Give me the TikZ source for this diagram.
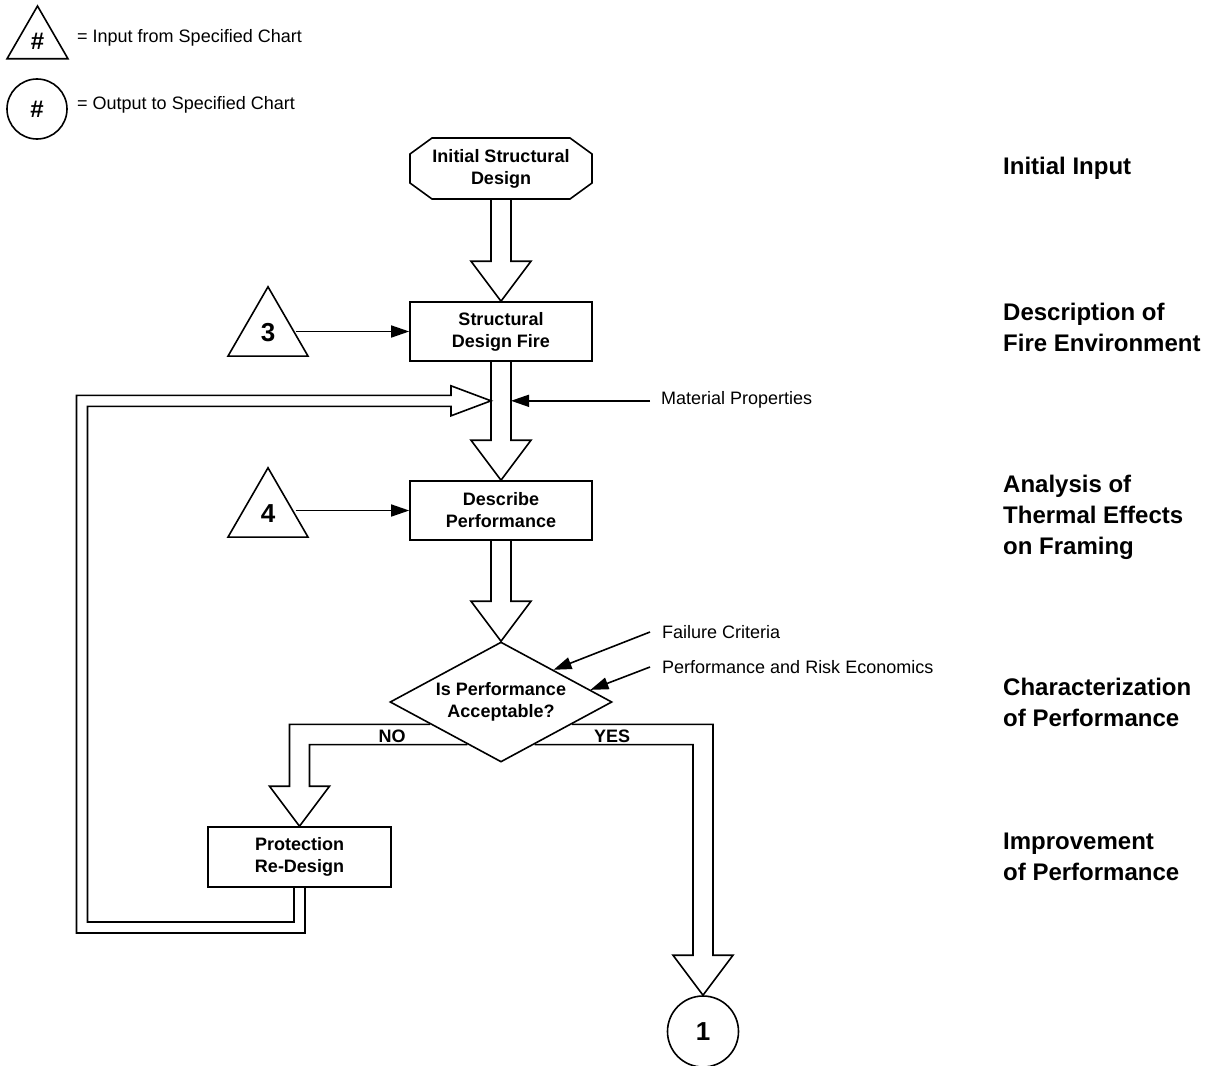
\documentclass[tikz,border=0pt]{standalone}
\usepackage{fontspec}
\setmainfont{Liberation Sans}
\usetikzlibrary{shapes.geometric,arrows.meta,calc}

% font sizes (1 unit = 1pt)
\newcommand\lblfont{\fontsize{18}{22}\selectfont}
\newcommand\boldlbl{\fontsize{18}{22}\selectfont\bfseries}
\newcommand\sidefont{\fontsize{24}{31}\selectfont\bfseries}
\newcommand\numfont{\fontsize{26}{30}\selectfont\bfseries}
\newcommand\hashfont{\fontsize{24}{28}\selectfont\bfseries}

% hollow block arrow pointing down from #1 to #2 (same x)
\newcommand\hollowdown[2]{%
  \draw[flowline] ($(#1)+(-10,0)$) -- ($(#2)+(-10,-40)$) -- ($(#2)+(-30,-40)$)
    -- (#2) -- ($(#2)+(30,-40)$) -- ($(#2)+(10,-40)$) -- ($(#1)+(10,0)$);}

\tikzset{
  flowline/.style={line width=1.6pt, line join=miter},
  procbox/.style={draw, line width=1.6pt, minimum width=182pt, minimum height=59pt,
    inner sep=0pt, align=center, font=\boldlbl},
  inchart/.style={regular polygon, regular polygon sides=3, draw, line width=1.6pt,
    inner sep=0pt},
  outchart/.style={circle, draw, line width=1.6pt, inner sep=0pt},
  lbl/.style={font=\lblfont, inner sep=0pt},
  sidelbl/.style={font=\sidefont, inner sep=0pt, anchor=west, align=left},
  pointer/.style={line width=1.6pt, -{Triangle[length=18pt,width=12pt]}},
}

\begin{document}
\begin{tikzpicture}[x=1pt, y=-1pt]
\useasboundingbox (0,0) rectangle (1220,1065);
\fill[white] (0,0) rectangle (1220,1065);

% legend
\node[inchart, minimum size=70.4pt] (lgIn) at (37.5,41.2) {\hashfont\#};
\node[lbl, anchor=west] (lgInTxt) at (77,38) {= Input from Specified Chart};
\node[outchart, minimum size=60pt] (lgOut) at (37,109) {\hashfont\#};
\node[lbl, anchor=west] (lgOutTxt) at (77,105) {= Output to Specified Chart};

% initial design (octagon)
\node[minimum width=182pt, minimum height=61pt, inner sep=0pt, outer sep=0pt,
      align=center, font=\boldlbl] (isd) at (501,168.5) {Initial Structural\\Design};
\draw[flowline] ([xshift=22pt]isd.north west) -- ([xshift=-22pt]isd.north east)
  -- ([yshift=-16pt]isd.north east) -- ([yshift=16pt]isd.south east)
  -- ([xshift=-22pt]isd.south east) -- ([xshift=22pt]isd.south west)
  -- ([yshift=16pt]isd.south west) -- ([yshift=-16pt]isd.north west) -- cycle;

% process boxes
\node[procbox] (sdf) at (501,331.5) {Structural\\Design Fire};
\node[procbox] (dp) at (501,510.5) {Describe\\Performance};
\node[procbox, minimum width=183pt, minimum height=60pt] (prd) at (299.5,857) {Protection\\Re-Design};

% decision
\node[diamond, draw, line width=1.6pt, aspect=1.85, minimum width=222pt,
      minimum height=120pt, inner sep=0pt, align=center, font=\boldlbl]
      (dia) at (501,702) {Is Performance\\Acceptable?};

% chart inputs and output
\node[inchart, minimum size=92.4pt] (t3) at (268,333) {\numfont 3};
\node[inchart, minimum size=92.4pt] (t4) at (268,514) {\numfont 4};
\node[outchart, minimum size=71pt] (o1) at (703,1031.5) {\numfont 1};

% main hollow flow
\hollowdown{isd.south}{sdf.north}
\hollowdown{sdf.south}{dp.north}
\hollowdown{dp.south}{dia.north}

% inputs into boxes
\draw[pointer] (t3.east |- sdf.west) -- (sdf.west);
\draw[pointer] (t4.east |- dp.west) -- (dp.west);

% material properties
\node[lbl, anchor=west, inner xsep=11pt] (mp) at (650,400) {Material Properties};
\coordinate (mpTip) at ($(sdf.south)+(10,39)$);
\draw[pointer] (mp.west |- mpTip) -- (mpTip);

% criteria into decision
\node[lbl, anchor=west, inner xsep=12pt] (fc) at (650,632) {Failure Criteria};
\node[lbl, anchor=west, inner xsep=12pt] (pe) at (650,667) {Performance and Risk Economics};
\coordinate (fcTip) at ($(dia.north)!0.47!(dia.east)$);
\coordinate (peTip) at ($(dia.north)!0.8!(dia.east)$);
\draw[pointer] (fc.west) -- (fcTip);
\draw[pointer] (pe.west) -- (peTip);

% NO branch
\coordinate (noOut) at ($(dia.west)!0.3667!(dia.south)$);
\coordinate (noIn) at ($(dia.west)!0.7!(dia.south)$);
\coordinate (lcOut) at ($(prd.north)+(-10,0)$);
\coordinate (lcIn) at ($(prd.north)+(10,0)$);
\draw[flowline] (noOut) -- (noOut -| lcOut) -- ($(prd.north)+(-10,-40)$)
  -- ($(prd.north)+(-30,-40)$) -- (prd.north) -- ($(prd.north)+(30,-40)$)
  -- ($(prd.north)+(10,-40)$) -- (noIn -| lcIn) -- (noIn);
\node[font=\boldlbl, inner sep=0pt] (no) at (392,736) {NO};

% YES branch
\coordinate (yesOut) at ($(dia.east)!0.3667!(dia.south)$);
\coordinate (yesIn) at ($(dia.east)!0.7!(dia.south)$);
\coordinate (rcOut) at ($(o1.north)+(10,0)$);
\coordinate (rcIn) at ($(o1.north)+(-10,0)$);
\draw[flowline] (yesOut) -- (yesOut -| rcOut) -- ($(o1.north)+(10,-40)$)
  -- ($(o1.north)+(30,-40)$) -- (o1.north) -- ($(o1.north)+(-30,-40)$)
  -- ($(o1.north)+(-10,-40)$) -- (yesIn -| rcIn) -- (yesIn);
\node[font=\boldlbl, inner sep=0pt] (yes) at (612,736) {YES};

% re-design loop back into the flow
\coordinate (loopTip) at ($(sdf.south)+(-10,39)$);
\draw[flowline] ($(prd.south)+(5.5,0)$) |- (76.5,933) |- ($(loopTip)+(-40,-5.5)$)
  -- ($(loopTip)+(-40,-15)$) -- (loopTip) -- ($(loopTip)+(-40,15)$)
  -- ($(loopTip)+(-40,5.5)$) -| (87.5,922) -| ($(prd.south)+(-5.5,0)$);

% stage labels
\node[sidelbl] (s1) at (1003,168) {Initial Input};
\node[sidelbl] (s2) at (1003,327.5) {Description of\\Fire Environment};
\node[sidelbl] (s3) at (1003,517) {Analysis of\\Thermal Effects\\on Framing};
\node[sidelbl] (s4) at (1003,702.5) {Characterization\\of Performance};
\node[sidelbl] (s5) at (1003,856.5) {Improvement\\of Performance};
\end{tikzpicture}
\end{document}
